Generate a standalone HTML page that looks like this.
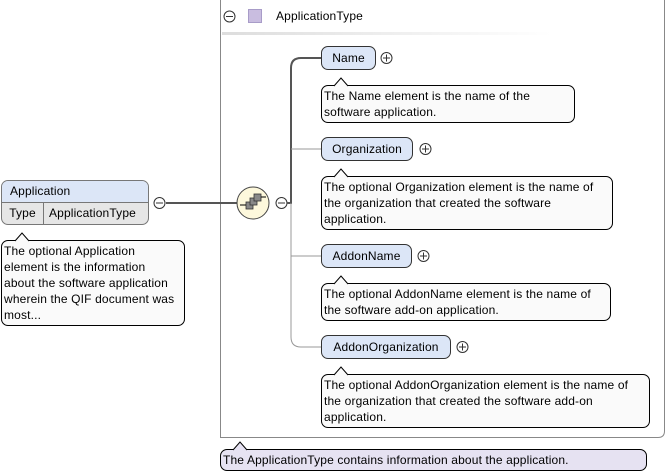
<!DOCTYPE html>
<html><head><meta charset="utf-8"><style>
body{margin:0;width:667px;height:475px;background:#fff;position:relative;font-family:"Liberation Sans",sans-serif;font-size:12px;letter-spacing:0.15px;color:#000;overflow:hidden}
.a{position:absolute;box-sizing:border-box}
.el{background:#dce6f7;border:1px solid #333;border-radius:7px;text-align:center;line-height:22px}
.doc{background:#fafafa;border:1px solid #000;border-radius:7px;padding:2px 1px 1px 2px;line-height:16px;white-space:nowrap}
</style></head><body>
<svg class="a" style="left:0;top:0" width="667" height="475">
<path d="M220.5 0 V437.5 H658 Q664.5 437.5 664.5 431 V0" fill="none" stroke="#888" stroke-width="1"/>
<defs><linearGradient id="g" x1="0" x2="1"><stop offset="0" stop-color="#ddd"/><stop offset="1" stop-color="#fff"/></linearGradient></defs>
<rect x="222" y="32" width="330" height="3" fill="url(#g)"/>
<circle cx="229.5" cy="16.5" r="5.5" fill="#fff" stroke="#333"/><line x1="226" y1="16.5" x2="233" y2="16.5" stroke="#333"/>
<rect x="248.5" y="9.5" width="13" height="13" fill="#c9bde0" stroke="#a89cc8"/>
<line x1="166" y1="203" x2="237" y2="203" stroke="#555" stroke-width="2"/>
<circle cx="159.5" cy="203" r="5.5" fill="#fff" stroke="#333"/><line x1="156" y1="203" x2="163" y2="203" stroke="#333"/>
<circle cx="253" cy="203" r="16" fill="#fdf8dc" stroke="#444"/>
<rect x="246" y="202" width="7" height="7" fill="#888" stroke="#333" stroke-width=".8"/>
<rect x="250" y="198" width="7" height="7" fill="#888" stroke="#333" stroke-width=".8"/>
<rect x="254" y="194" width="7" height="7" fill="#888" stroke="#333" stroke-width=".8"/>
<line x1="240" y1="205" x2="246" y2="205" stroke="#000"/><line x1="261" y1="197" x2="266" y2="197" stroke="#000"/>
<circle cx="281.5" cy="203" r="5.5" fill="#fff" stroke="#333"/><line x1="278" y1="203" x2="285" y2="203" stroke="#333"/>
<path d="M287 203 H291 V68 Q291 58 301 58 H321" fill="none" stroke="#555" stroke-width="2"/>
<path d="M291 203 V337 Q291 347 301 347 H321 M291 149 H321 M291 256 H321" fill="none" stroke="#999" stroke-width="1"/>
<g fill="#fff" stroke="#333">
<circle cx="386.5" cy="58" r="5.5"/><circle cx="425.5" cy="149" r="5.5"/><circle cx="423.5" cy="256" r="5.5"/><circle cx="462.5" cy="347" r="5.5"/>
</g>
<path d="M383 58h7M386.5 54.5v7M422 149h7M425.5 145.5v7M420 256h7M423.5 252.5v7M459 347h7M462.5 343.5v7" stroke="#333"/>
</svg>
<div class="a" style="left:1px;top:180px;width:148px;height:45px;border:1px solid #777;border-radius:7px;overflow:hidden;background:#e6e6e6">
<div style="background:#dce6f7;height:21px;line-height:21px;padding-left:8px;border-bottom:1px solid #777">Application</div>
<div style="display:flex;line-height:21px"><div style="width:41px;border-right:1px solid #777;text-align:center">Type</div><div style="padding-left:5px">ApplicationType</div></div>
</div>
<div class="a doc" style="left:1px;top:240px;width:184px;height:86px">The optional Application<br>element is the information<br>about the software application<br>wherein the QIF document was<br>most...</div>
<div class="a" style="left:276px;top:8px;line-height:16px">ApplicationType</div>
<div class="a el" style="left:321px;top:46px;width:55px;height:24px">Name</div>
<div class="a doc" style="left:321px;top:85px;width:254px;height:38px">The Name element is the name of the<br>software application.</div>
<div class="a el" style="left:321px;top:137px;width:92px;height:24px">Organization</div>
<div class="a doc" style="left:321px;top:176px;width:292px;height:54px">The optional Organization element is the name of<br>the organization that created the software<br>application.</div>
<div class="a el" style="left:321px;top:244px;width:91px;height:24px">AddonName</div>
<div class="a doc" style="left:321px;top:283px;width:290px;height:38px">The optional AddonName element is the name of<br>the software add-on application.</div>
<div class="a el" style="left:321px;top:335px;width:130px;height:24px">AddonOrganization</div>
<div class="a doc" style="left:321px;top:374px;width:329px;height:54px">The optional AddonOrganization element is the name of<br>the organization that created the software add-on<br>application.</div>
<div class="a doc" style="left:220px;top:449px;width:427px;height:22px;background:#e6e2f2;line-height:18px;padding-top:1px">The ApplicationType contains information about the application.</div>
<svg class="a" style="left:0;top:0" width="667" height="475">
<g fill="#fafafa" stroke="#000">
<path d="M15 241 L22 233 L29 241"/><path d="M334 86 L341 78 L348 86"/><path d="M334 177 L341 169 L348 177"/><path d="M334 284 L341 276 L348 284"/><path d="M334 375 L341 367 L348 375"/>
<path d="M233 450 L240 442 L247 450" fill="#e6e2f2"/>
</g></svg>
</body></html>
